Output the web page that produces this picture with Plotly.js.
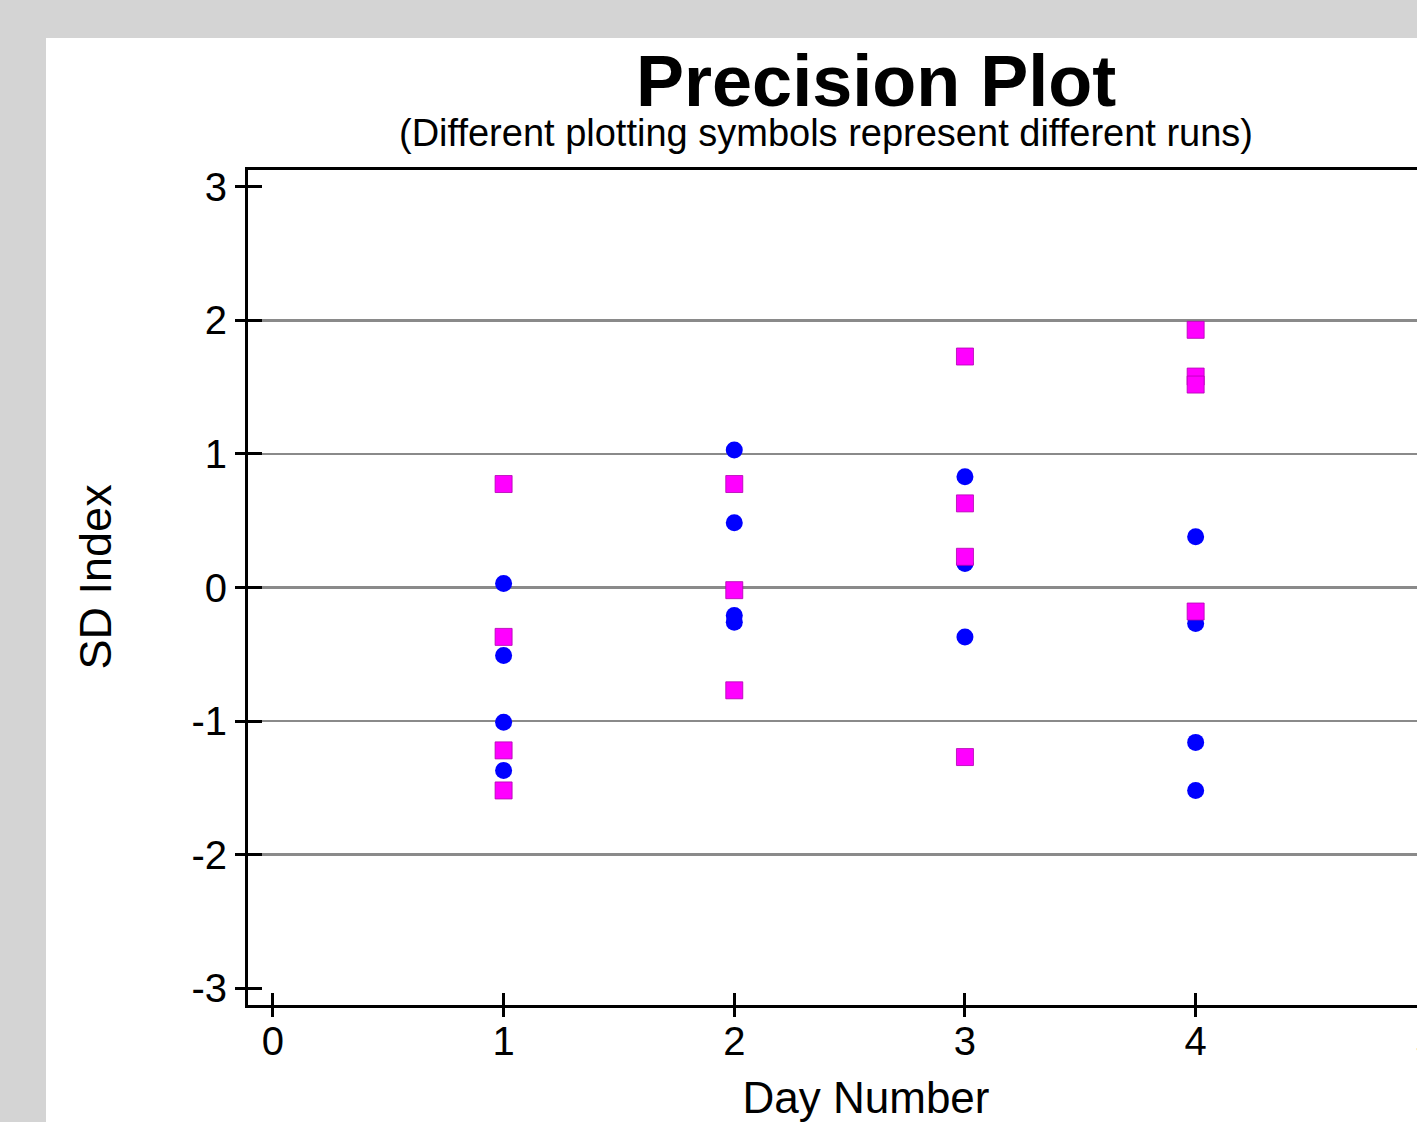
<!DOCTYPE html>
<html><head><meta charset="utf-8">
<script src="https://cdn.plot.ly/plotly-3.0.1.min.js"></script>
<style>
html,body{margin:0;padding:0;background:#d4d4d4;overflow:hidden;width:1417px;height:1122px}
#wrap{position:absolute;left:46px;top:38px;width:1660px;height:1100px;background:#fff}
</style></head><body><div id="wrap"><div id="chart"></div></div>
<script>
// Run 1 (blue circles)
const blueDay = [1,1,1,1, 2,2,2,2, 3,3,3, 4,4,4,4];
const blueSD  = [0.03,-0.51,-1.01,-1.37, 1.03,0.485,-0.21,-0.26, 0.83,0.18,-0.37, 0.38,-0.27,-1.16,-1.52];
// Run 2 (magenta squares)
const magentaDay = [1,1,1,1, 2,2,2, 3,3,3,3, 4,4,4,4];
const magentaSD  = [0.775,-0.37,-1.22,-1.52, 0.775,-0.02,-0.77, 1.73,0.63,0.23,-1.27, 1.93,1.58,1.52,-0.18];

const xTicks = [0,1,2,3,4,5];
const yTicks = [-3,-2,-1,0,1,2,3];
const gridVals = [-2,-1,0,1,2];

const chartTitle = 'Precision Plot';
const chartSubtitle = '(Different plotting symbols represent different runs)';
const xTitle = 'Day Number';
const yTitle = 'SD Index';

const FONT = 'Liberation Sans, Arial, sans-serif';
const XR = [-0.108, 5.25];
const YR = [-3.127, 3.127];

const traces = [
  {x: [], y: [], xaxis: 'x', yaxis: 'y3', type: 'scatter', mode: 'markers', hoverinfo: 'skip', showlegend: false},
  {x: [], y: [], xaxis: 'x', yaxis: 'y2', type: 'scatter', mode: 'markers', hoverinfo: 'skip', showlegend: false},
  {x: [], y: [], xaxis: 'x2', yaxis: 'y', type: 'scatter', mode: 'markers', hoverinfo: 'skip', showlegend: false},
  {x: blueDay, y: blueSD, type: 'scatter', mode: 'markers', showlegend: false,
   marker: {symbol: 'circle', size: 17, color: '#0000ff', line: {width: 0}}},
  {x: magentaDay, y: magentaSD, type: 'scatter', mode: 'markers', showlegend: false,
   marker: {symbol: 'square', size: 17, color: '#ff00ff', line: {width: 0.8, color: '#b000b0'}}}
];

const baseAxis = {
  showline: true, linecolor: '#000', linewidth: 3, mirror: true,
  ticks: 'outside', tickcolor: '#000', tickwidth: 3,
  showgrid: false, zeroline: false,
  tickfont: {family: FONT, size: 40, color: '#000'}
};

const layout = {
  width: 1660, height: 1100,
  margin: {l: 202, r: 222, t: 132, b: 133},
  paper_bgcolor: '#fff', plot_bgcolor: '#fff',
  font: {family: FONT, color: '#000'},
  xaxis: Object.assign({}, baseAxis, {
    range: XR, tickmode: 'array', tickvals: xTicks, ticktext: xTicks.map(String), ticklen: 9,
    ticklabelstandoff: -10,
    title: {text: xTitle, font: {family: FONT, size: 44, color: '#000'}, standoff: 21}
  }),
  yaxis: Object.assign({}, baseAxis, {
    range: YR, tickmode: 'array', tickvals: yTicks, ticktext: yTicks.map(String), ticklen: 10
  }),
  yaxis2: {overlaying: 'y', range: YR, tickmode: 'array', tickvals: yTicks, ticks: 'inside', ticklen: 14,
    tickwidth: 3, tickcolor: '#000', showticklabels: false, showgrid: false, zeroline: false, showline: false, side: 'left'},
  yaxis3: {overlaying: 'y', range: YR, tickmode: 'array', tickvals: gridVals, ticks: '',
    showticklabels: false, showgrid: true, gridcolor: '#8a8a8a', gridwidth: 2.5, zeroline: false, showline: false, side: 'left'},
  xaxis2: {overlaying: 'x', anchor: 'y', range: XR, tickmode: 'array', tickvals: xTicks, ticks: 'inside', ticklen: 12,
    tickwidth: 3, tickcolor: '#000', showticklabels: false, showgrid: false, zeroline: false, showline: false, side: 'bottom'},
  annotations: [
    {text: '<b>' + chartTitle + '</b>', xref: 'paper', yref: 'paper', x: 0.5077, y: 1.106, xanchor: 'center', yanchor: 'middle',
     showarrow: false, font: {family: FONT, size: 72, color: '#000'}},
    {text: chartSubtitle, xref: 'paper', yref: 'paper', x: 0.468, y: 1.0443, xanchor: 'center', yanchor: 'middle',
     showarrow: false, font: {family: FONT, size: 38, color: '#000'}},
    {text: yTitle, xref: 'paper', yref: 'paper', x: -0.1238, y: 0.5132, xanchor: 'center', yanchor: 'middle',
     textangle: -90, showarrow: false, font: {family: FONT, size: 45, color: '#000'}}
  ]
};

Plotly.newPlot('chart', traces, layout, {displayModeBar: false, staticPlot: true});
</script></body></html>
